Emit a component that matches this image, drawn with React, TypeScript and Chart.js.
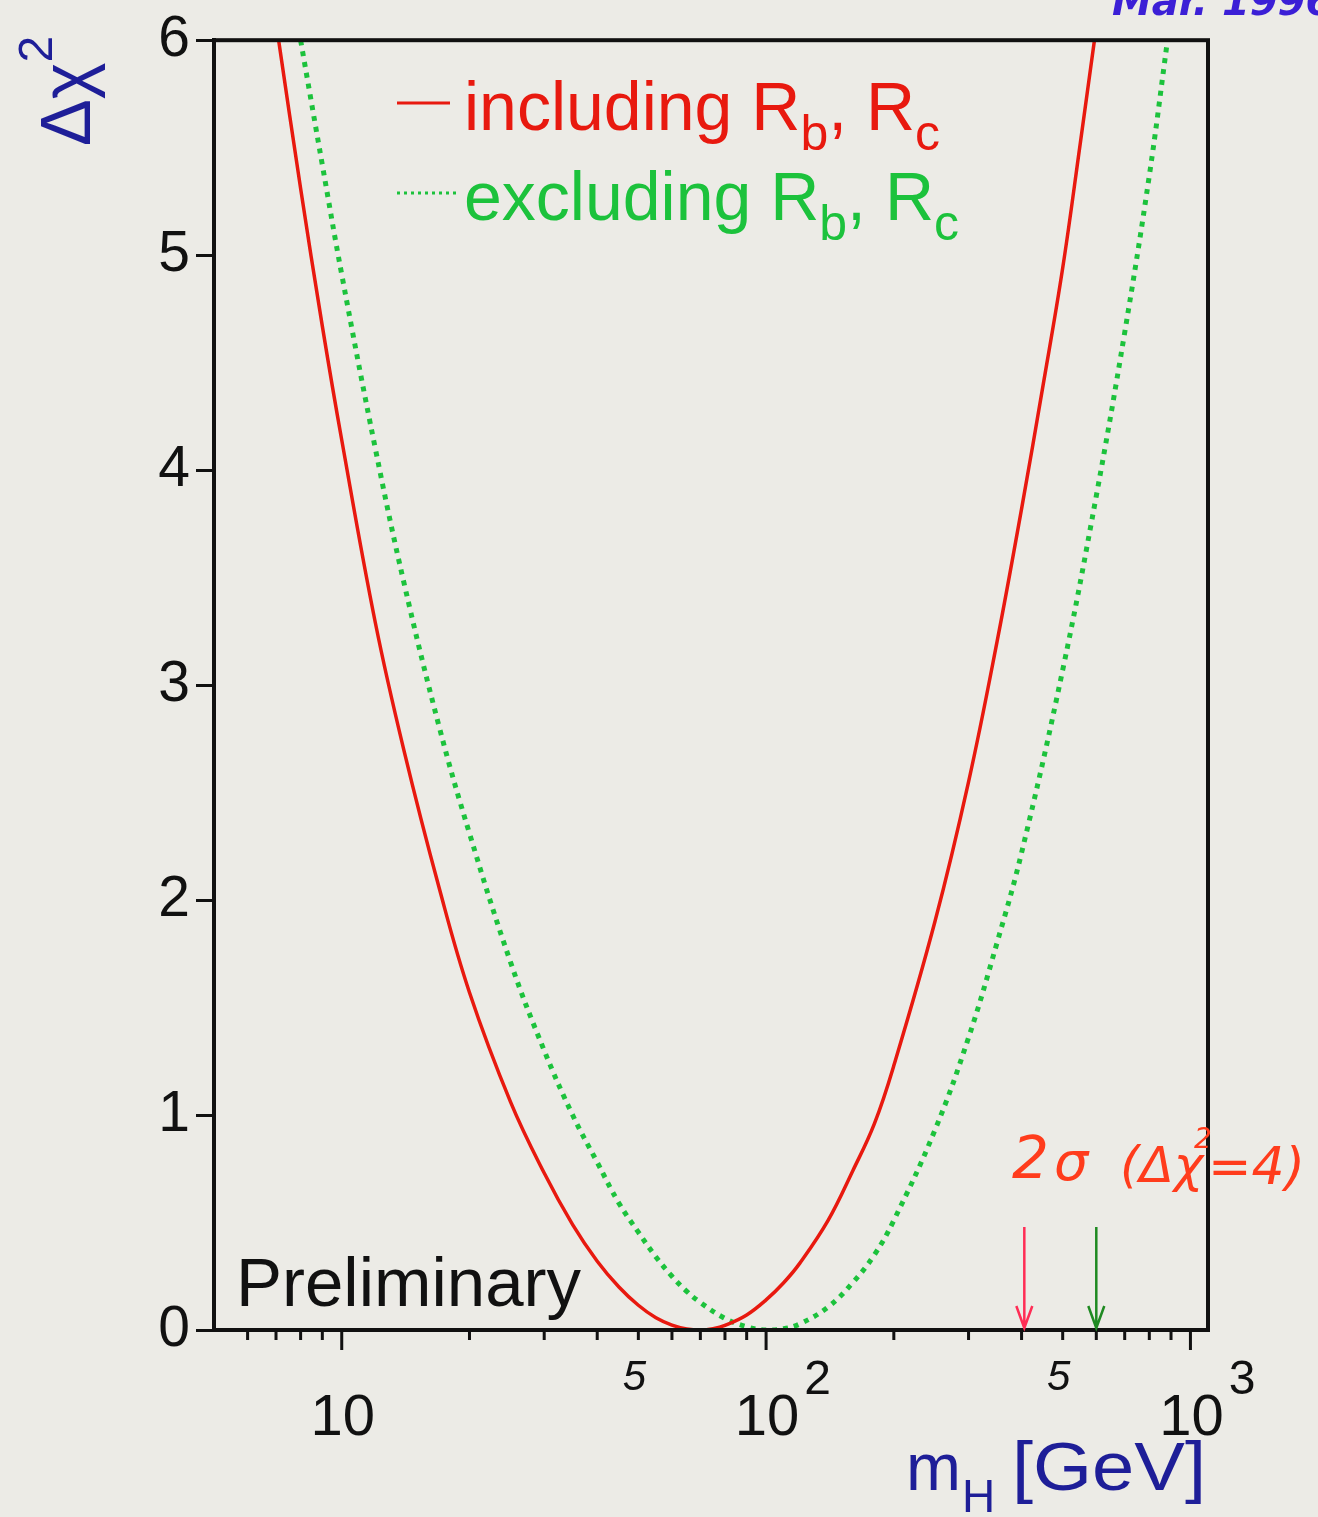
import React, { useEffect, useRef } from 'react';
import { Chart, registerables } from 'chart.js';

Chart.register(...registerables);

// Δχ² vs m_H, fit including Rb, Rc (solid red)
const includingMass = [7.1, 8, 9, 10, 12, 14, 17, 20, 25, 30, 35, 40, 45, 50, 55, 60, 65, 70, 75, 80, 90, 100, 110, 120, 140, 160, 180, 200, 250, 300, 350, 400, 450, 500, 550, 594];
const includingChi2 = [6.0, 5.31, 4.67, 4.14, 3.29, 2.70, 2.05, 1.57, 1.06, 0.73, 0.49, 0.32, 0.20, 0.115, 0.057, 0.023, 0.005, 0.0, 0.006, 0.021, 0.07, 0.14, 0.22, 0.31, 0.51, 0.74, 0.96, 1.23, 1.90, 2.55, 3.20, 3.82, 4.40, 4.94, 5.52, 6.0];

// Δχ² vs m_H, fit excluding Rb, Rc (dotted green)
const excludingMass = [8, 9, 10, 12, 14, 17, 20, 25, 30, 35, 40, 45, 50, 55, 60, 65, 70, 80, 90, 100, 110, 120, 140, 160, 180, 200, 250, 300, 350, 400, 500, 600, 700, 800, 883];
const excludingChi2 = [6.0, 5.42, 4.91, 4.10, 3.48, 2.80, 2.31, 1.71, 1.30, 1.00, 0.78, 0.59, 0.455, 0.34, 0.25, 0.18, 0.128, 0.054, 0.015, 0.0, 0.006, 0.028, 0.107, 0.22, 0.35, 0.51, 0.93, 1.36, 1.80, 2.22, 3.07, 3.88, 4.64, 5.37, 6.0];

// 2σ upper limits (Δχ² = 4) marked by arrows
const limitMasses = [406, 600];
const limitColors = ['#ff2d55', '#1f8a22'];

// axis ticks
const xMinorTicks = [6, 7, 8, 9, 20, 30, 40, 50, 60, 70, 80, 90, 200, 300, 400, 500, 600, 700, 800, 900];
const xMajorTicks = [10, 100, 1000];
const xMajorBase = ['10', '10', '10'];
const xMajorExp = ['', '2', '3'];
const xFiveMarks = [50, 500];
const xFiveLabels = ['5', '5'];
const yTicks = [0, 1, 2, 3, 4, 5, 6];

const legendLabels = ['including', 'excluding'];
const RED = '#e8190f';
const GREEN = '#1cc23c';
const NAVY = '#1e1e98';
const FONT = '"Liberation Sans", Arial, sans-serif';

const decorPlugin = {
  id: 'decor',
  beforeDraw(chart: any) {
    const ctx = chart.ctx;
    ctx.save();
    ctx.fillStyle = '#ecebe6';
    ctx.fillRect(0, 0, chart.width, chart.height);
    ctx.restore();
  },
  afterDraw(chart: any) {
    const { ctx, chartArea: a, scales } = chart;
    const xs = scales.x;
    ctx.save();
    // frame
    ctx.strokeStyle = '#111';
    ctx.lineWidth = 4;
    ctx.strokeRect(a.left, a.top, a.right - a.left, a.bottom - a.top);

    // x ticks (outward)
    ctx.lineWidth = 3;
    ctx.beginPath();
    xMinorTicks.forEach((v) => {
      const px = xs.getPixelForValue(v);
      ctx.moveTo(px, a.bottom);
      ctx.lineTo(px, a.bottom + 10);
    });
    xMajorTicks.forEach((v) => {
      const px = xs.getPixelForValue(v);
      ctx.moveTo(px, a.bottom);
      ctx.lineTo(px, a.bottom + 20);
    });
    ctx.stroke();

    // x tick labels
    ctx.fillStyle = '#111';
    ctx.textBaseline = 'alphabetic';
    xMajorTicks.forEach((v, i) => {
      const px = xs.getPixelForValue(v);
      ctx.font = `58px ${FONT}`;
      ctx.textAlign = 'center';
      ctx.fillText(xMajorBase[i], px + 1, a.bottom + 105);
      if (xMajorExp[i]) {
        const w = ctx.measureText(xMajorBase[i]).width;
        ctx.font = `48px ${FONT}`;
        ctx.textAlign = 'left';
        ctx.fillText(xMajorExp[i], px + w / 2 + 6, a.bottom + 64);
      }
    });
    ctx.font = `italic 42px ${FONT}`;
    ctx.textAlign = 'center';
    xFiveMarks.forEach((v, i) => {
      const px = xs.getPixelForValue(v);
      ctx.fillText(xFiveLabels[i], px - 4, a.bottom + 60);
    });

    // y-axis title Δχ²
    ctx.fillStyle = NAVY;
    ctx.save();
    ctx.translate(90, 146);
    ctx.rotate(-Math.PI / 2);
    ctx.font = `70px ${FONT}`;
    ctx.textAlign = 'left';
    ctx.fillText('Δχ', 0, 0);
    const tw = ctx.measureText('Δχ').width;
    ctx.font = `48px ${FONT}`;
    ctx.fillText('2', tw, -38);
    ctx.restore();

    // x-axis title m_H [GeV]
    ctx.textAlign = 'left';
    ctx.font = `66px ${FONT}`;
    ctx.fillText('m', 906, 1490);
    const mw = ctx.measureText('m').width;
    ctx.font = `46px ${FONT}`;
    ctx.fillText('H', 906 + mw + 1, 1512);
    ctx.save();
    ctx.font = `68px ${FONT}`;
    const gw = ctx.measureText('[GeV]').width;
    const stretch = (1206 - 1012) / gw;
    ctx.translate(1012, 1490);
    ctx.scale(stretch, 1);
    ctx.fillText('[GeV]', 0, 0);
    ctx.restore();

    // legend
    const drawLegendText = (label: string, color: string, x: number, base: number) => {
      ctx.fillStyle = color;
      ctx.textAlign = 'left';
      let cx = x;
      const big = `68px ${FONT}`;
      const small = `50px ${FONT}`;
      const parts: [string, boolean][] = [[label + ' R', false], ['b', true], [', R', false], ['c', true]];
      parts.forEach(([t, sub]) => {
        ctx.font = sub ? small : big;
        ctx.fillText(t, cx, sub ? base + 20 : base);
        cx += ctx.measureText(t).width;
      });
    };
    ctx.lineWidth = 3;
    ctx.strokeStyle = RED;
    ctx.setLineDash([]);
    ctx.beginPath();
    ctx.moveTo(397, 103);
    ctx.lineTo(450, 103);
    ctx.stroke();
    ctx.strokeStyle = GREEN;
    ctx.setLineDash([3, 4]);
    ctx.beginPath();
    ctx.moveTo(397, 193);
    ctx.lineTo(456, 193);
    ctx.stroke();
    ctx.setLineDash([]);
    drawLegendText(legendLabels[0], RED, 464, 130);
    drawLegendText(legendLabels[1], GREEN, 464, 220);

    // Preliminary
    ctx.fillStyle = '#111';
    ctx.font = `69px ${FONT}`;
    ctx.textAlign = 'left';
    ctx.fillText('Preliminary', 236, 1306);

    // arrows at 2σ limits
    limitMasses.forEach((m, i) => {
      const px = xs.getPixelForValue(m);
      ctx.strokeStyle = limitColors[i];
      ctx.lineWidth = 2.5;
      ctx.beginPath();
      ctx.moveTo(px, 1227);
      ctx.lineTo(px, a.bottom - 2);
      ctx.moveTo(px - 8, a.bottom - 24);
      ctx.lineTo(px, a.bottom - 2);
      ctx.lineTo(px + 8, a.bottom - 24);
      ctx.stroke();
    });

    // handwritten annotation
    ctx.fillStyle = '#ff3c1c';
    ctx.textAlign = 'left';
    ctx.font = `italic 58px "DejaVu Sans", sans-serif`;
    ctx.fillText('2', 1012, 1178);
    ctx.font = `italic 54px "DejaVu Sans", sans-serif`;
    ctx.fillText('σ', 1054, 1180);
    ctx.font = `italic 50px "DejaVu Sans", sans-serif`;
    ctx.fillText('(Δχ', 1120, 1182);
    ctx.font = `italic 28px "DejaVu Sans", sans-serif`;
    ctx.fillText('2', 1194, 1148);
    ctx.font = `italic 52px "DejaVu Sans", sans-serif`;
    ctx.fillText('=4)', 1208, 1184);

    // top-right handwritten note (cut off)
    ctx.fillStyle = '#3b1fd6';
    ctx.font = `italic bold 40px "DejaVu Sans", sans-serif`;
    ctx.fillText('Mar. 1996', 1112, 15);

    ctx.restore();
  },
};

export default function App() {
  const canvasRef = useRef<HTMLCanvasElement | null>(null);

  useEffect(() => {
    if (!canvasRef.current) return;
    const chart = new Chart(canvasRef.current, {
      type: 'line',
      data: {
        datasets: [
          {
            label: 'including Rb, Rc',
            data: includingMass.map((m, i) => ({ x: m, y: includingChi2[i] })),
            borderColor: RED,
            borderWidth: 3.5,
            pointRadius: 0,
            tension: 0.4,
            fill: false,
          },
          {
            label: 'excluding Rb, Rc',
            data: excludingMass.map((m, i) => ({ x: m, y: excludingChi2[i] })),
            borderColor: GREEN,
            borderWidth: 5,
            borderDash: [5, 6],
            pointRadius: 0,
            tension: 0.4,
            fill: false,
          },
        ],
      },
      options: {
        responsive: false,
        animation: false,
        devicePixelRatio: 1,
        layout: { padding: { left: 0, top: 38, right: 110, bottom: 187 } },
        plugins: { legend: { display: false }, tooltip: { enabled: false } },
        scales: {
          x: {
            type: 'logarithmic',
            min: 5,
            max: 1100,
            display: false,
          },
          y: {
            type: 'linear',
            min: 0,
            max: 6,
            afterBuildTicks: (scale: any) => {
              scale.ticks = yTicks.map((v) => ({ value: v }));
            },
            afterFit: (scale: any) => {
              scale.width = 214;
            },
            ticks: {
              color: '#111',
              padding: 6,
              font: { size: 57, family: FONT },
              callback: (v: any) => String(v),
            },
            grid: {
              drawOnChartArea: false,
              drawTicks: true,
              tickLength: 18,
              color: '#111',
              lineWidth: 3,
            },
            border: { display: true, color: '#111', width: 4 },
          },
        },
      },
      plugins: [decorPlugin],
    } as any);
    return () => chart.destroy();
  }, []);

  return (
    <div style={{ position: 'fixed', left: 0, top: 0, width: 1318, height: 1517, background: '#ecebe6' }}>
      <canvas ref={canvasRef} width={1318} height={1517} style={{ display: 'block' }} />
    </div>
  );
}
